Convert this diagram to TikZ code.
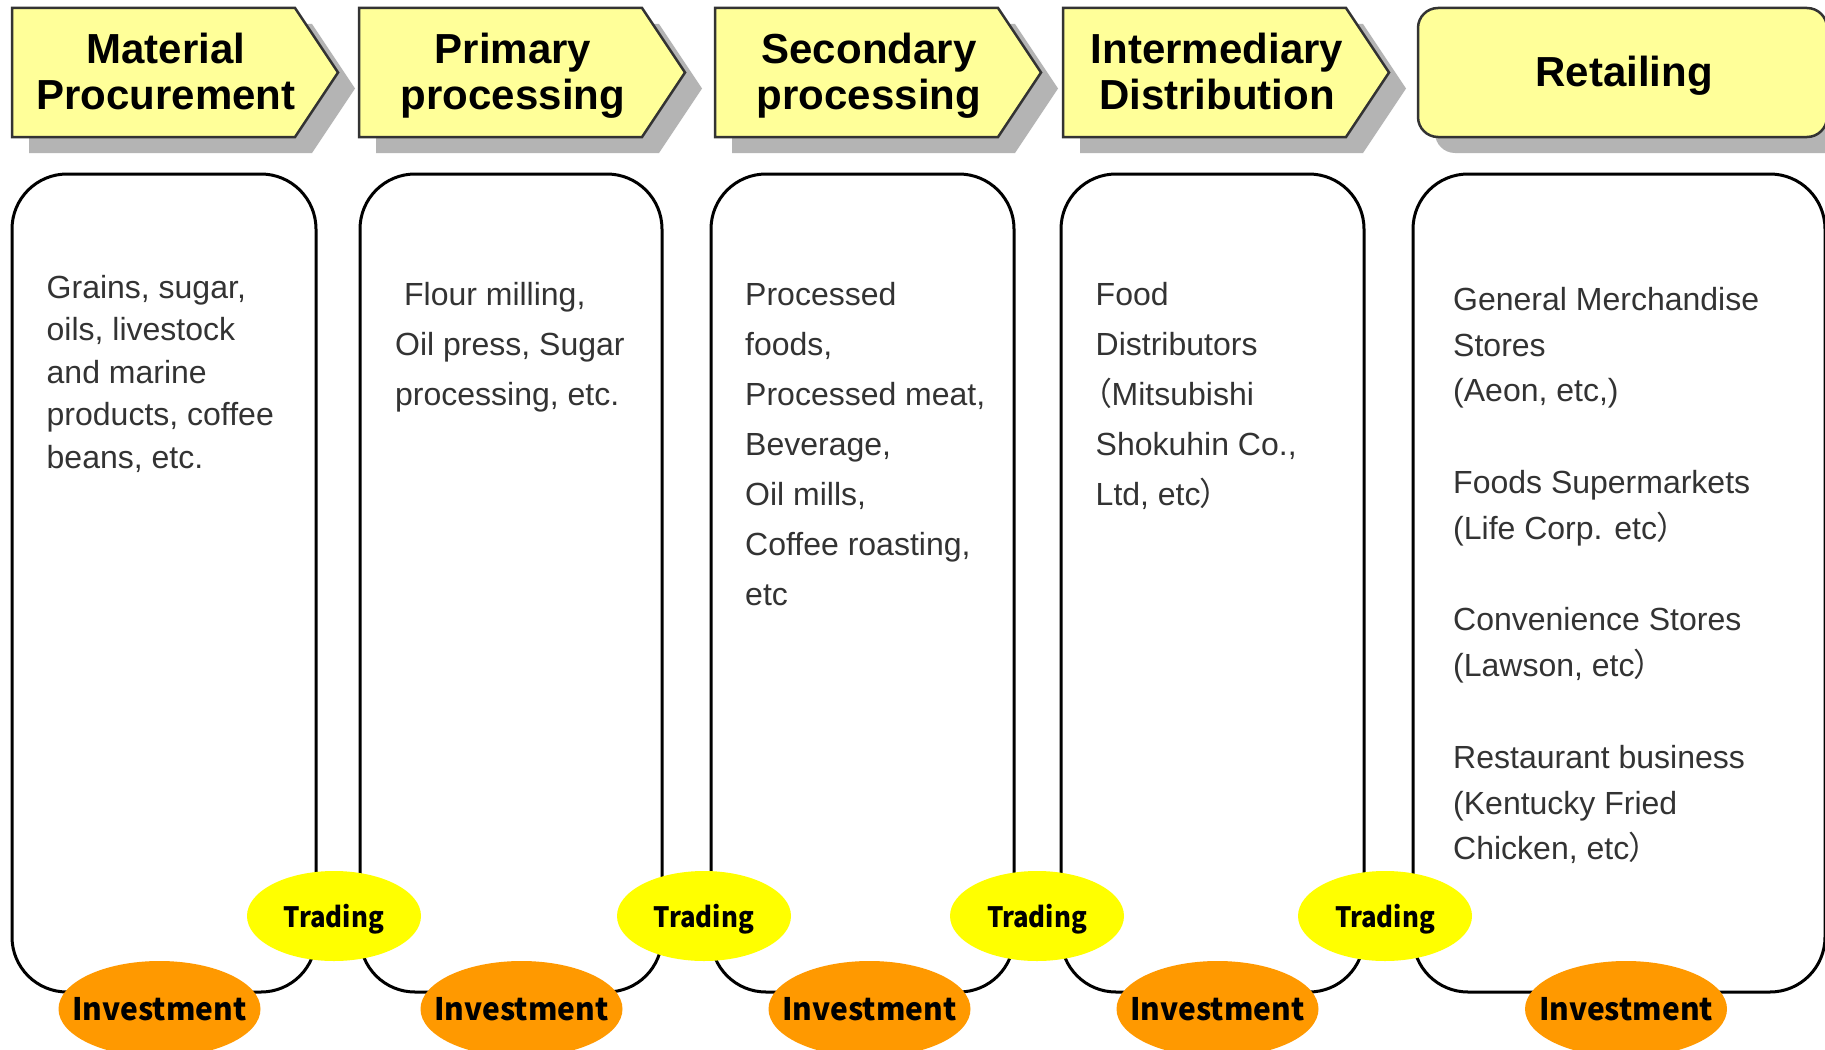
\documentclass[tikz,border=0pt]{standalone}
\usepackage{fontspec}
\setmainfont{Liberation Sans}
\newfontfamily\cjk{Noto Sans CJK JP}[RawFeature=+palt]
\usetikzlibrary{shapes.geometric}
\definecolor{hdrfill}{HTML}{FFFF99}
\definecolor{hdrline}{HTML}{333333}
\definecolor{shadowgray}{HTML}{B4B4B4}
\definecolor{bodytext}{HTML}{333333}
\definecolor{tradeyellow}{HTML}{FFFF00}
\definecolor{investorange}{HTML}{FF9900}
\tikzset{
  hdr/.style={fill=hdrfill, draw=hdrline, line width=2.5pt, line join=miter},
  hdrshadow/.style={fill=shadowgray},
  hdrtext/.style={font=\fontsize{42}{46.5}\selectfont\bfseries, align=center, anchor=north, inner sep=0pt},
  colbox/.style={draw=black, line width=3pt, rounded corners=55pt},
  bodytxt/.style={text=bodytext, anchor=north west, inner sep=0pt, align=left},
  trade/.style={ellipse, fill=tradeyellow, minimum width=174pt, minimum height=90pt, inner sep=0pt, text depth=0pt,
    font=\cjk\bfseries\fontsize{28}{28}\selectfont},
  invest/.style={ellipse, fill=investorange, minimum width=202pt, minimum height=96pt, inner sep=0pt, text depth=0pt,
    font=\cjk\bfseries\fontsize{31}{31}\selectfont},
}
\newcommand{\fwl}{{\cjk （}}
\newcommand{\fwr}{{\cjk ）}}
\newcommand{\ovtext}[2]{\makebox[0pt]{\scalebox{#1}[1]{#2}}}
\begin{document}
\begin{tikzpicture}[x=1pt,y=-1pt]
\clip (0,0) rectangle (1825,1049);
\fill[white] (0,0) rectangle (1825,1049);

% header arrows
\foreach \L in {12,359,715,1063}{
  \fill[hdrshadow] (\L+17,24) -- (\L+300,24) -- (\L+343,88.5) -- (\L+300,153) -- (\L+17,153) -- cycle;
  \draw[hdr] (\L,8) -- (\L+283,8) -- (\L+326,72.5) -- (\L+283,137) -- (\L,137) -- cycle;
}
\fill[hdrshadow, rounded corners=20pt] (1435,24) rectangle (1860,153);
\draw[hdr, rounded corners=20pt] (1418,8) rectangle (1827,137);

\node[hdrtext] (h1) at (166,25) {\rule{0pt}{38pt}Material\\Procurement};
\node[hdrtext] (h2) at (513,25) {\rule{0pt}{38pt}Primary\\processing};
\node[hdrtext] (h3) at (869,25) {\rule{0pt}{38pt}Secondary\\processing};
\node[hdrtext] (h4) at (1217,25) {\rule{0pt}{38pt}Intermediary\\Distribution};
\node[hdrtext] (h5) at (1624,48) {\rule{0pt}{38pt}Retailing};

% column boxes
\draw[colbox] (12,174) rectangle (316,992);
\draw[colbox] (360,174) rectangle (662,992);
\draw[colbox] (711,174) rectangle (1014,992);
\draw[colbox] (1061,174) rectangle (1364,992);
\draw[colbox] (1413,174) rectangle (1825,992);

% column texts
\node[bodytxt, font=\fontsize{32}{42.5}\selectfont] (t1) at (46.5,270)
  {\rule{0pt}{28pt}Grains, sugar,\\oils, livestock\\and marine\\products, coffee\\beans, etc.};
\node[bodytxt, font=\fontsize{32}{50}\selectfont] (t2) at (395,277)
  {\rule{0pt}{28pt}\ Flour milling,\\Oil press, Sugar\\processing, etc.};
\node[bodytxt, font=\fontsize{32}{50}\selectfont] (t3) at (745,277)
  {\rule{0pt}{28pt}Processed\\foods,\\Processed meat,\\Beverage,\\Oil mills,\\Coffee roasting,\\etc};
\node[bodytxt, font=\fontsize{32}{50}\selectfont] (t4) at (1095.5,277)
  {\rule{0pt}{28pt}Food\\Distributors\\\fwl Mitsubishi\\Shokuhin Co.,\\Ltd, etc\fwr};
\node[bodytxt, font=\fontsize{32}{45.8}\selectfont] (t5) at (1453,282)
  {\rule{0pt}{28pt}General Merchandise\\Stores\\(Aeon, etc,)\\[45.8pt]Foods Supermarkets\\(Life Corp. etc\fwr\\[45.8pt]Convenience Stores\\(Lawson, etc\fwr\\[45.8pt]Restaurant business\\(Kentucky Fried\\Chicken, etc\fwr};

% investment ellipses
\node[invest] (i1) at (159.5,1009) {\ovtext{0.965}{Investment}};
\node[invest] (i2) at (521.5,1009) {\ovtext{0.965}{Investment}};
\node[invest] (i3) at (869.5,1009) {\ovtext{0.965}{Investment}};
\node[invest] (i4) at (1217.5,1009) {\ovtext{0.965}{Investment}};
\node[invest] (i5) at (1626,1009) {\ovtext{0.965}{Investment}};

% trading ellipses
\node[trade] (r1) at (334,916) {\ovtext{0.92}{Trading}};
\node[trade] (r2) at (704,916) {\ovtext{0.92}{Trading}};
\node[trade] (r3) at (1037,916) {\ovtext{0.92}{Trading}};
\node[trade] (r4) at (1385,916) {\ovtext{0.92}{Trading}};
\end{tikzpicture}
\end{document}
